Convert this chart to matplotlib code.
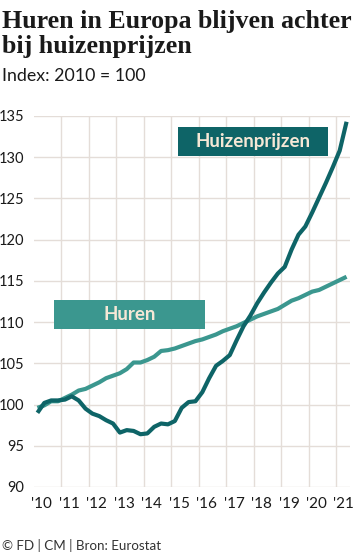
import matplotlib
matplotlib.use("Agg")
import matplotlib.pyplot as plt
from matplotlib.patches import Rectangle
import matplotlib.transforms as mtrans

# ---- data (quarterly, 2010Q1 .. 2021Q2) ----
quarters = [2010.125 + 0.25 * i for i in range(46)]
huizenprijzen = [99.0, 100.2, 100.5, 100.5, 100.6, 101.0, 100.5, 99.5,
                 98.9, 98.6, 98.1, 97.7, 96.6, 96.9, 96.8, 96.4,
                 96.5, 97.3, 97.7, 97.6, 98.0, 99.6, 100.3, 100.4,
                 101.5, 103.2, 104.7, 105.3, 106.0, 107.8, 109.5, 110.8,
                 112.3, 113.6, 114.8, 115.9, 116.7, 118.8, 120.6, 121.6,
                 123.3, 125.1, 126.9, 128.8, 130.8, 134.3]
huren = [99.6, 99.9, 100.4, 100.4, 100.8, 101.2, 101.7, 101.9,
         102.3, 102.7, 103.2, 103.5, 103.8, 104.3, 105.1, 105.1,
         105.4, 105.8, 106.5, 106.6, 106.8, 107.1, 107.4, 107.7,
         107.9, 108.2, 108.5, 108.9, 109.2, 109.5, 109.9, 110.3,
         110.7, 111.0, 111.3, 111.6, 112.1, 112.6, 112.9, 113.3,
         113.7, 113.9, 114.3, 114.7, 115.1, 115.5]
year_ticks = list(range(2010, 2022))
year_labels = ["'10", "'11", "'12", "'13", "'14", "'15", "'16", "'17",
               "'18", "'19", "'20", "'21"]
y_ticks = [90, 95, 100, 105, 110, 115, 120, 125, 130, 135]

DARK = "#0e6467"
LIGHT = "#3b978f"
CREAM = "#f6e8d6"
GRID = "#e4ddd8"
TEXT = "#1a1a1a"

W, H = 360, 554
fig = plt.figure(figsize=(W / 100, H / 100), dpi=100)
fig.patch.set_facecolor("white")

ax = fig.add_axes([34 / W, 1 - 487 / H, (350 - 34) / W, (487 - 116) / H])
ax.set_xlim(2010, 2021.5)
ax.set_ylim(90, 135)
for s in ax.spines.values():
    s.set_visible(False)
ax.set_facecolor("none")

for y in y_ticks:
    ax.axhline(y, color=GRID, lw=1.0, zorder=0)
for x in year_ticks[1:]:
    ax.axvline(x, color=GRID, lw=1.0, zorder=0)

ax.plot(quarters, huren, color=LIGHT, lw=3.0, solid_capstyle="butt",
        solid_joinstyle="round", zorder=3)
ax.plot(quarters, huizenprijzen, color=DARK, lw=3.0, solid_capstyle="butt",
        solid_joinstyle="round", zorder=4)

ax.set_yticks(y_ticks)
ax.set_yticklabels([str(v) for v in y_ticks], fontsize=10.5, family="Lato",
                   color=TEXT)
ax.set_xticks(year_ticks)
ax.set_xticklabels(year_labels, fontsize=11, family="Lato", color=TEXT,
                   ha="left")
ax.tick_params(axis="y", length=0, pad=7)
ax.tick_params(axis="x", length=0, pad=7)
off = mtrans.ScaledTranslation(-2 / 72, 0, fig.dpi_scale_trans)
for lab in ax.get_xticklabels():
    lab.set_transform(lab.get_transform() + off)

# label boxes
ax.add_patch(Rectangle((2015.24, 130.15), 2020.69 - 2015.24, 133.67 - 130.15,
                       facecolor=DARK, edgecolor="none", zorder=5))
ax.text((2015.24 + 2020.69) / 2, (130.15 + 133.67) / 2, "Huizenprijzen",
        color=CREAM, fontsize=13.5, fontweight="bold", family="Lato",
        ha="center", va="center", zorder=6)
ax.add_patch(Rectangle((2010.73, 109.15), 2016.22 - 2010.73, 112.67 - 109.15,
                       facecolor=LIGHT, edgecolor="none", zorder=5))
ax.text((2010.73 + 2016.22) / 2, (109.15 + 112.67) / 2, "Huren",
        color=CREAM, fontsize=13.5, fontweight="bold", family="Lato",
        ha="center", va="center", zorder=6)

# titles
t1 = fig.text(2 / W, 1 - 28 / H, "Huren in Europa blijven achter",
              fontsize=19.5, fontweight="bold", family="Liberation Serif",
              color=TEXT, ha="left", va="baseline")
t2 = fig.text(2 / W, 1 - 53 / H, "bij huizenprijzen",
              fontsize=19.5, fontweight="bold", family="Liberation Serif",
              color=TEXT, ha="left", va="baseline")
# fit title width to ~349 px
renderer = fig.canvas.get_renderer()
w = t1.get_window_extent(renderer).width
fs = 19.5 * 349 / w
t1.set_fontsize(fs)
t2.set_fontsize(fs)

fig.text(2 / W, 1 - 81 / H, "Index: 2010 = 100", fontsize=12.8, family="Lato",
         color=TEXT, ha="left", va="baseline")
fig.text(2 / W, 1 - 550 / H, "\u00a9 FD | CM | Bron: Eurostat", fontsize=9.6,
         family="Lato", color="#333333", ha="left", va="baseline")

fig.savefig("out.png", dpi=100)
